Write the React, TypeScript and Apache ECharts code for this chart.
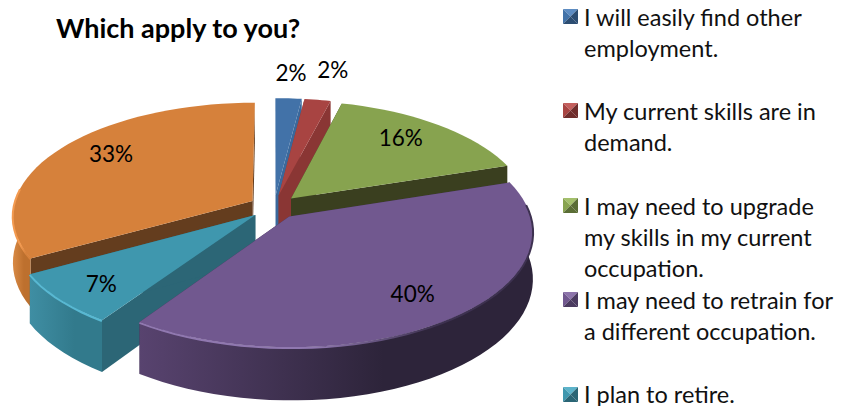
import React, { useEffect, useRef } from "react";
import * as echarts from "echarts";

const titleText = "Which apply to you?";
const legendLabels = [
  "I will easily find other\nemployment.",
  "My current skills are in\ndemand.",
  "I may need to upgrade\nmy skills in my current\noccupation.",
  "I may need to retrain for\na different occupation.",
  "I plan to retire.",
];
const sliceNames = ["Find", "Skills", "Upgrade", "Retrain", "Retire", "Other"];
const sliceValues = [2, 2, 16, 39.5, 7.4, 33.1];
const topColors = ["#4272a8", "#a84442", "#87a34f", "#71588f", "#3f97ae", "#d6813b"];
const faceColors = ["#3a689b", "#8a3634", "#3a3f1f", "#3d2f4e", "#2c6676", "#643d1e"];
const wallLeft = ["#3a689b", "#8a3634", "#6f8840", "#58436f", "#3f8ea3", "#d98a45"];
const wallRight = ["#30557f", "#7a2f2d", "#3a3f1f", "#2d243a", "#327a8c", "#bd702e"];
const rimColors = ["#5a8ac0", "#c05a58", "#a0bc68", "#9078b0", "#58b8d2", "#f39a50"];
const rimFade = ["#4272a8", "#a84442", "#87a34f", "#3d3150", "#58b8d2", "#d6813b"];
const paintOrder = [1, 2, 3, 6, 5, 0];
const labelReach = [1.3, 1.3, 0.7, 0.8, 0.82, 0.7];
const labelNudgeX = [-1, 5, 4, -4, 4, -5];
const labelNudgeY = [-1, -6, -8, -3, 1, -10];

const CX = 274, CY = 207, RX = 239, RY = 112, PERSP = 0.124, EXPLODE = 0.105, DEPTH = 46;

const project = (u: number, v: number, drop = 0) => {
  const d = 1 - PERSP * v;
  return [CX + (RX * u) / d, CY + (RY * v) / d + (drop ? drop / d : 0)];
};

const total = sliceValues.reduce((a, b) => a + b, 0);

function renderSlice(params: any, api: any) {
  const i = params.dataIndex;
  let before = 0;
  for (let k = 0; k < i; k++) before += sliceValues[k];
  const a0 = (before / total) * Math.PI * 2;
  const a1 = ((before + api.value(0)) / total) * Math.PI * 2;
  const mid = (a0 + a1) / 2;
  const ox = EXPLODE * Math.sin(mid);
  const oy = -EXPLODE * Math.cos(mid);
  const base = paintOrder[i] * 10;
  const steps = Math.max(6, Math.ceil(((a1 - a0) / (Math.PI * 2)) * 120));
  const arcT: number[][] = [];
  const arcB: number[][] = [];
  const wallT: number[][] = [];
  const wallB: number[][] = [];
  const front: number[][] = [];
  for (let s = 0; s <= steps; s++) {
    const a = a0 + ((a1 - a0) * s) / steps;
    const u = ox + Math.sin(a);
    const v = oy - Math.cos(a);
    arcT.push(project(u, v));
    arcB.push(project(u, v, DEPTH));
    if (Math.cos(a) < 0.12) {
      wallT.push(project(u, v));
      wallB.push(project(u, v, DEPTH));
      front.push(project(u, v + 0.006));
    }
  }
  const apexT = project(ox, oy);
  const apexB = project(ox, oy, DEPTH);
  const children: any[] = [
    {
      type: "polygon", z2: base + 1, shape: { points: [apexT, arcT[0], arcB[0], apexB] },
      style: { fill: faceColors[i] },
    },
    {
      type: "polygon", z2: base + 1, shape: { points: [apexT, arcT[steps], arcB[steps], apexB] },
      style: { fill: faceColors[i] },
    },
    {
      type: "polygon", z2: base + 3, shape: { points: [apexT, ...arcT] },
      style: { fill: topColors[i] },
    },
  ];
  if (wallT.length > 1) {
    children.push({
      type: "polygon", z2: base + 2, shape: { points: [...wallT, ...wallB.slice().reverse()] },
      style: {
        fill: new echarts.graphic.LinearGradient(0, 0, 1, 0, [
          { offset: 0, color: wallLeft[i] },
          { offset: 0.62, color: wallRight[i] },
          { offset: 1, color: wallRight[i] },
        ]),
      },
    });
    children.push({
      type: "polyline", z2: base + 4, shape: { points: front },
      style: {
        stroke: new echarts.graphic.LinearGradient(0, 0, 1, 0, [
          { offset: 0, color: rimColors[i] },
          { offset: 0.45, color: rimColors[i] },
          { offset: 0.75, color: rimFade[i] },
          { offset: 1, color: rimFade[i] },
        ]),
        lineWidth: 2, fill: "none",
      },
    });
  }
  const reach = labelReach[i];
  const lp = project(ox + reach * Math.sin(mid), oy - reach * Math.cos(mid));
  children.push({
    type: "text", z2: 200, x: lp[0] + labelNudgeX[i], y: lp[1] + labelNudgeY[i],
    style: {
      text: `${Math.round((api.value(0) / total) * 100)}%`,
      fill: "#000", font: "22.5px Lato", align: "center", verticalAlign: "middle",
    },
  });
  return { type: "group", children };
}

const swatchColors = ["#4272a8", "#a84442", "#87a34f", "#71588f", "#3f97ae"];
const swatchDark = ["#2c4d72", "#702d2c", "#5a6d35", "#4b3b60", "#2a6575"];
const swatchLight = ["#5d8cc2", "#c45f5d", "#a3bf6b", "#8d74ab", "#5cb3ca"];
const swatchTops = [9, 103, 198, 292, 387];
const SW = 15;

const legendGraphics = legendLabels.flatMap((label, i) => {
  const x = 563, y = swatchTops[i], m = SW / 2;
  const single = !label.includes("\n");
  const tri = (pts: number[][], fill: string) => ({
    type: "polygon", shape: { points: pts.map(([a, b]) => [x + a, y + b]) }, style: { fill },
  });
  return [
    tri([[0, 0], [SW, 0], [m, m]], swatchLight[i]),
    tri([[0, 0], [0, SW], [m, m]], swatchColors[i]),
    tri([[SW, 0], [SW, SW], [m, m]], swatchDark[i]),
    tri([[0, SW], [SW, SW], [m, m]], swatchDark[i]),
    {
      type: "text", x: 584, y: single ? y - 4 : y - 8,
      style: { text: label, font: "23.5px Lato", lineHeight: single ? 22 : 31, fill: "#111" },
    },
  ];
});

export default function App() {
  const ref = useRef<HTMLDivElement>(null);
  useEffect(() => {
    const chart = echarts.init(ref.current!, undefined, { renderer: "svg" });
    chart.setOption({
      animation: false,
      backgroundColor: "#fff",
      title: {
        text: titleText, left: 51, top: 9,
        textStyle: { fontFamily: "Lato", fontWeight: "bold", fontSize: 27, color: "#000" },
      },
      graphic: legendGraphics,
      series: [
        {
          type: "custom",
          coordinateSystem: "none",
          renderItem: renderSlice,
          data: sliceValues.map((value, i) => ({ name: sliceNames[i], value: [value] })),
        },
      ],
    });
    return () => chart.dispose();
  }, []);
  return <div ref={ref} style={{ position: "absolute", left: 0, top: 0, width: 855, height: 406 }} />;
}
